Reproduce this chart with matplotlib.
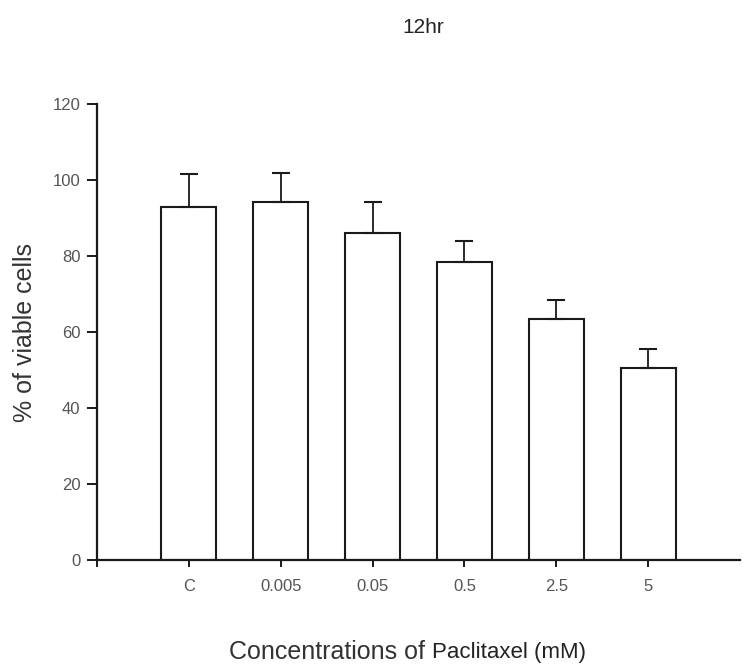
import numpy as np
import matplotlib
matplotlib.use("Agg")
import matplotlib.pyplot as plt

plt.rcParams['font.family'] = ['Liberation Sans', 'DejaVu Sans']

# viability after 12 hr exposure
labels = ["C", "0.005", "0.05", "0.5", "2.5", "5"]
viable = [92.9, 94.1, 86.1, 78.3, 63.4, 50.5]
sem = [8.6, 7.7, 8.2, 5.6, 5.1, 5.0]

ink = "#1a1a1a"
fig = plt.figure(figsize=(7.43, 6.64), dpi=100)
ax = fig.add_axes([0.1305, 0.1566, 0.8655, 0.6868])

pos = np.arange(1, len(labels) + 1)
ax.bar(pos, viable, width=0.6, color="white", edgecolor=ink, linewidth=1.5,
       yerr=[np.zeros(len(sem)), sem],
       error_kw=dict(ecolor=ink, elinewidth=1.3, capsize=6.5, capthick=1.5))

ax.set_xlim(0, 7)
ax.set_ylim(0, 120)
ax.set_yticks(np.arange(0, 121, 20))
ax.set_xticks(pos)
ax.set_xticklabels(labels)
ax.set_xticks([0], minor=True)

for s in ("top", "right"):
    ax.spines[s].set_visible(False)
for s in ("left", "bottom"):
    ax.spines[s].set_linewidth(1.6)
    ax.spines[s].set_color(ink)

ax.tick_params(axis="y", direction="out", length=7, width=1.4, color=ink,
               labelsize=12, labelcolor="#555555", pad=5)
ax.tick_params(axis="x", which="both", direction="out", length=5, width=1.4,
               color=ink, labelsize=12, labelcolor="#555555", pad=9)

ax.set_ylabel("% of viable cells", fontsize=18, color="#333333", labelpad=11)
fig.text(0.569, 0.958, "12hr", ha="center", va="center", fontsize=15, color="#222222")

# mixed-size x label
t1 = fig.text(0.308, 0.018, "Concentrations of ", ha="left", va="center",
              fontsize=18, color="#333333")
fig.canvas.draw()
bb = t1.get_window_extent()
x2 = bb.x1 / fig.bbox.width
fig.text(x2, 0.018, "Paclitaxel (mM)", ha="left", va="center",
         fontsize=16, color="#222222")

fig.savefig("out.png", dpi=100)
